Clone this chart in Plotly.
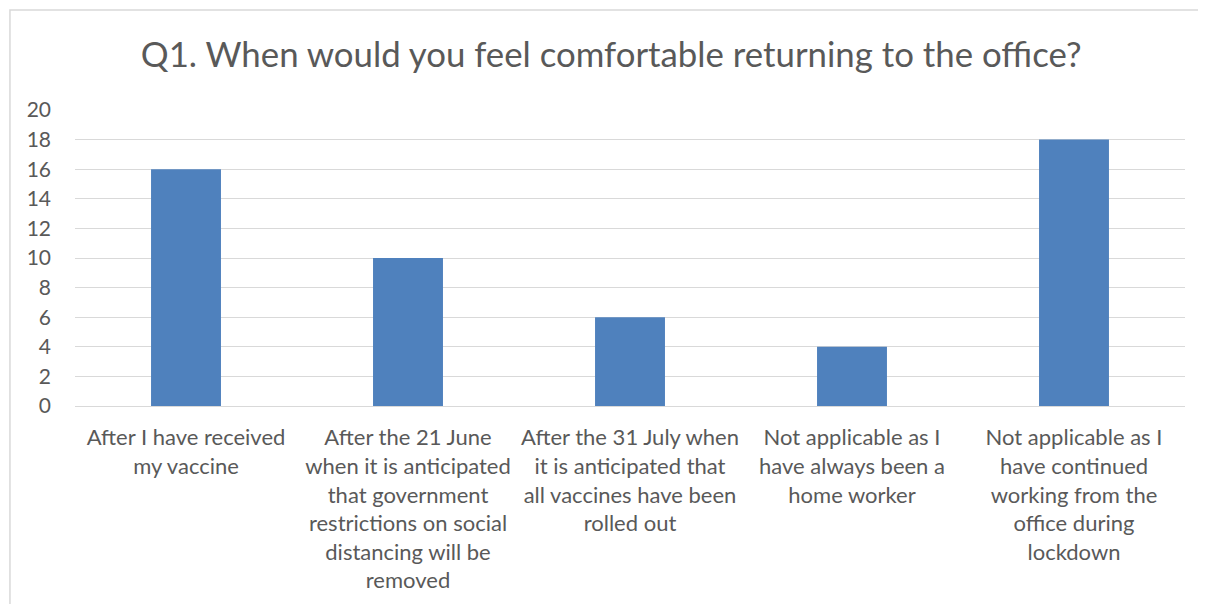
import plotly.graph_objects as go

# Survey answers for Q1
categories = [
    "After I have received<br>my vaccine",
    "After the 21 June<br>when it is anticipated<br>that government<br>restrictions on social<br>distancing will be<br>removed",
    "After the 31 July when<br>it is anticipated that<br>all vaccines have been<br>rolled out",
    "Not applicable as I<br>have always been a<br>home worker",
    "Not applicable as I<br>have continued<br>working from the<br>office during<br>lockdown",
]
counts = [16, 10, 6, 4, 18]
y_ticks = list(range(0, 21, 2))

fig = go.Figure(go.Bar(
    x=categories, y=counts,
    marker_color='#4f81bd',
    marker_line_width=0,
    width=0.315))

# page body has an 8px margin, so the figure is 1198x596
fig.update_layout(
    width=1198, height=596,
    margin=dict(l=67, r=21, t=102, b=198),
    paper_bgcolor='white', plot_bgcolor='white',
    font=dict(family='Lato, Open Sans, sans-serif', size=22, color='#595959'),
    title=dict(text='Q1. When would you feel comfortable returning to the office?',
               x=0.5035, xanchor='center', y=1 - 47 / 596, yanchor='middle',
               font=dict(size=34.8, color='#595959')),
    showlegend=False,
)
fig.update_yaxes(range=[0, 20], tickvals=y_ticks, showgrid=True, gridcolor='#d9d9d9',
                 gridwidth=1, zeroline=False, showline=False, ticks='', ticklabelstandoff=23,
                 tickfont=dict(size=21))
fig.update_xaxes(showline=True, linecolor='#d9d9d9', linewidth=1, ticks='',
                 tickangle=0, automargin=False, ticklabelstandoff=12)

# outer chart border
fig.add_shape(type='rect', xref='paper', yref='paper',
              x0=-0.0586, x1=1.05, y0=-0.70, y1=1.338,
              line=dict(color='#d9d9d9', width=1.5), fillcolor='rgba(0,0,0,0)', layer='below')

fig.write_html("out.html")
